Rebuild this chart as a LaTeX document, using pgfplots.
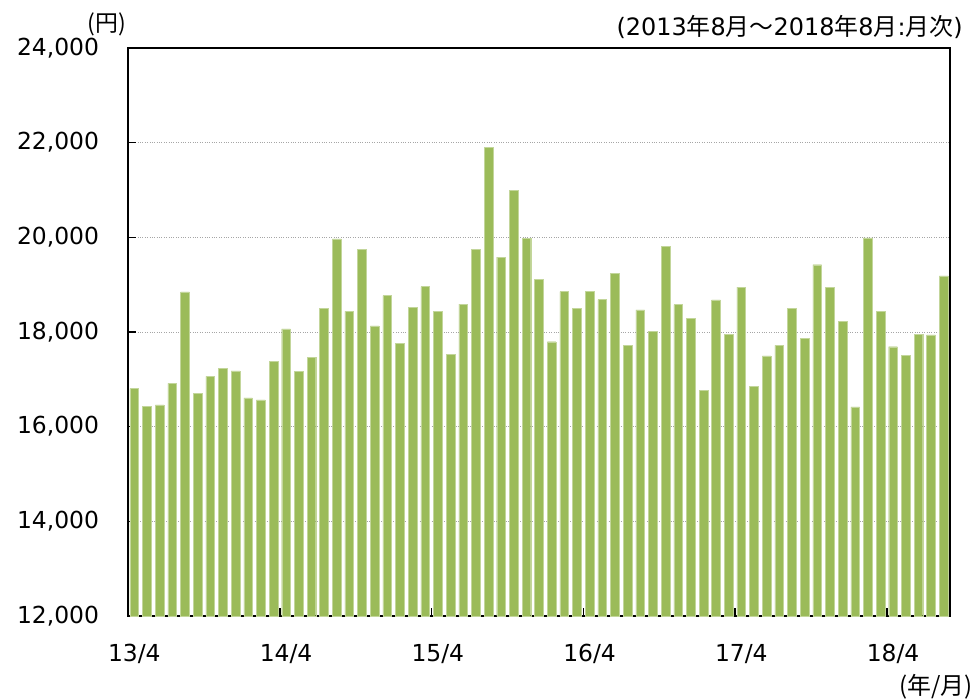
\documentclass[border=0pt]{standalone}
\usepackage{pgfplots}
\pgfplotsset{compat=1.18}
\usetikzlibrary{calc}
\usepackage{fontspec}
\setmainfont{DejaVu Sans}
\newfontfamily\jp{Noto Sans CJK JP}
\definecolor{bargreen}{HTML}{9BBB59}
\pgfplotstableread{
x y
0 16806
1 16424
2 16460
3 16912
4 18848
5 16700
6 17060
7 17230
8 17180
9 16608
10 16565
11 17378
12 18064
13 17166
14 17463
15 18495
16 19965
17 18438
18 19753
19 18127
20 18770
21 17760
22 18516
23 18961
24 18431
25 17534
26 18587
27 19753
28 21894
29 19583
30 20989
31 19979
32 19117
33 17795
34 18855
35 18495
36 18862
37 18686
38 19237
39 17717
40 18467
41 18014
42 19809
43 18580
44 18283
45 16771
46 18679
47 17944
48 18947
49 16848
50 17498
51 17717
52 18502
53 17873
54 19421
55 18940
56 18219
57 16417
58 19986
59 18438
60 17689
61 17513
62 17944
63 17937
64 19187
}\datatable
\begin{document}
\fontsize{23.5}{28}\selectfont
\begin{tikzpicture}
\begin{axis}[
  scale only axis,
  width=822bp, height=568bp,
  xmin=-0.5, xmax=64.5,
  ymin=12000, ymax=24000,
  ytick={12000,14000,...,24000},
  xtick={0,12,...,60},
  xticklabels={13/4,14/4,15/4,16/4,17/4,18/4},
  minor xtick={11.5,23.5,35.5,47.5,59.5},
  major x tick style={draw=none},
  minor x tick style={black, line width=1.5bp},
  minor tick length=8bp,
  major tick length=8bp,
  tick align=inside,
  xtick pos=bottom,
  ytick pos=left,
  y tick style={black, line width=1.5bp},
  axis line style={black, line width=1.5bp},
  ymajorgrids,
  grid style={gray!70, dotted, line width=0.8bp},
  /pgf/number format/assume math mode=true,
  /pgf/number format/1000 sep={,},
  scaled y ticks=false,
  yticklabel style={font=\fontsize{23.5}{28}\selectfont, xshift=-21bp},
  xticklabel style={font=\fontsize{23.5}{28}\selectfont, yshift=-20bp},
  axis on top=false,
]
\addplot[ybar, bar width=8.7bp, bar shift=0pt, fill=bargreen, draw=bargreen!60!white, line width=0.4bp] table[x=x,y=y] {\datatable};
\end{axis}
\node[anchor=center, font=\fontsize{23}{26}\selectfont\jp, inner sep=0pt] at ($(current axis.north west)+(-21bp,24bp)$) {(円)};
\node[anchor=east, font=\fontsize{24}{28}\selectfont, inner sep=0pt] at ($(current axis.north east)+(13bp,21bp)$) {(2013{\jp 年}8{\jp 月～}2018{\jp 年}8{\jp 月}:{\jp 月次})};
\node[anchor=east, font=\fontsize{24}{28}\selectfont\jp, inner sep=0pt] at ($(current axis.south east)+(23bp,-71bp)$) {(年/月)};
\path ($(current axis.south west)+(-128bp,-84bp)$) rectangle ++(975bp,700bp);
\end{tikzpicture}
\end{document}
